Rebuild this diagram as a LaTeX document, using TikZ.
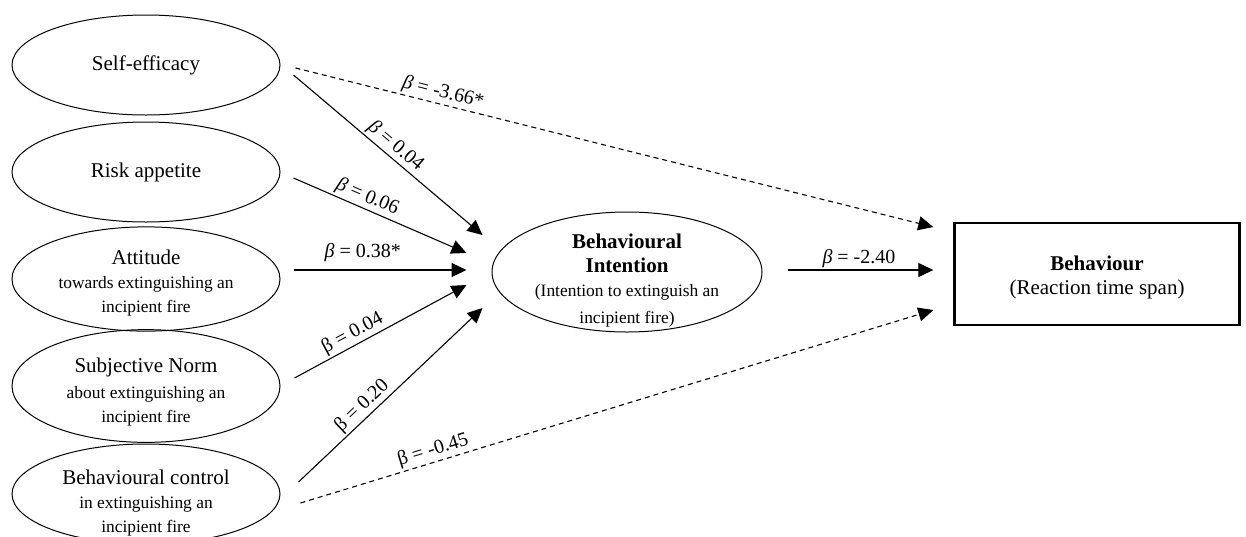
\documentclass[tikz,border=0pt]{standalone}
\usepackage{fontspec}
\setmainfont{Liberation Serif}
\usetikzlibrary{arrows.meta,shapes.geometric}
\newcommand{\titlesz}{\fontsize{10.5}{12.5}\selectfont}
\newcommand{\subsz}{\fontsize{8.7}{10}\selectfont}

\begin{document}
\begin{tikzpicture}[x=0.5pt,y=-0.5pt,>={Triangle[length=7.5pt,width=7pt]},
  every node/.style={align=center},
  construct/.style={draw,ellipse,line width=0.5pt,minimum width=134pt,minimum height=50pt,inner sep=0pt},
  effect/.style={->,line width=0.55pt},
  direct/.style={effect,dash pattern=on 2.5pt off 2pt},
  coef/.style={font=\fontsize{10}{12}\selectfont,inner sep=1pt,sloped,above}]
  \useasboundingbox (0,0) rectangle (1246,536);
  \node[construct] (se) at (146,65) {\titlesz Self-efficacy};
  \node[construct] (ra) at (146,172) {\titlesz Risk appetite};
  \node[construct] (att) at (146,279) {\rule{0pt}{11pt}\titlesz Attitude\\\subsz towards extinguishing an\\\subsz incipient fire};
  \node[construct] (sn) at (146,386) {\rule{0pt}{13pt}\titlesz Subjective Norm\\[1pt]\subsz about extinguishing an\\\subsz incipient fire};
  \node[construct,inner ysep=-4pt] (bc) at (146,494) {\rule{0pt}{16pt}\titlesz Behavioural control\\\subsz in extinguishing an\\\subsz incipient fire};
  \node[construct,minimum width=135pt,minimum height=60pt,inner ysep=-7pt] (bi) at (627,272)
    {\rule{0pt}{16pt}\titlesz\bfseries Behavioural\\\titlesz\bfseries Intention\\\subsz (Intention to extinguish an\\[1.5pt]\subsz incipient fire)};
  \node[draw,line width=1.2pt,minimum width=142.5pt,minimum height=51pt] (beh) at (1097,274)
    {\rule{0pt}{11pt}\titlesz\bfseries Behaviour\\\titlesz (Reaction time span)};
  \draw[direct] ([shift={(15,3)}]se.east) -- ([shift={(-20,-47)}]beh.west) node[coef,pos=0.227]{\textit{β} = -3.66*};
  \draw[effect] ([shift={(13,10)}]se.east) -- ([shift={(-9,-37)}]bi.west) node[coef,pos=0.5]{\textit{β} = 0.04};
  \draw[effect] ([shift={(13,6)}]ra.east) -- ([shift={(-25,-19)}]bi.west) node[coef,pos=0.4]{\textit{β} = 0.06};
  \draw[effect] ([shift={(13,-9)}]att.east) -- ([shift={(-25,-2)}]bi.west) node[coef,pos=0.4,above=3pt]{\textit{β} = 0.38*};
  \draw[effect] ([shift={(14,-8)}]sn.east) -- ([shift={(-25,13)}]bi.west) node[coef,pos=0.37]{β = 0.04};
  \draw[effect] ([shift={(18,-12)}]bc.east) -- ([shift={(-9,36)}]bi.west) node[coef,pos=0.39]{β = 0.20};
  \draw[direct] ([shift={(20,9)}]bc.east) -- ([shift={(-20,36)}]beh.west) node[coef,pos=0.215]{β = -0.45};
  \draw[effect] ([shift={(25,-2)}]bi.east) -- ([shift={(-20,-4)}]beh.west) node[coef,pos=0.49]{\textit{β} = -2.40};
\end{tikzpicture}
\end{document}
